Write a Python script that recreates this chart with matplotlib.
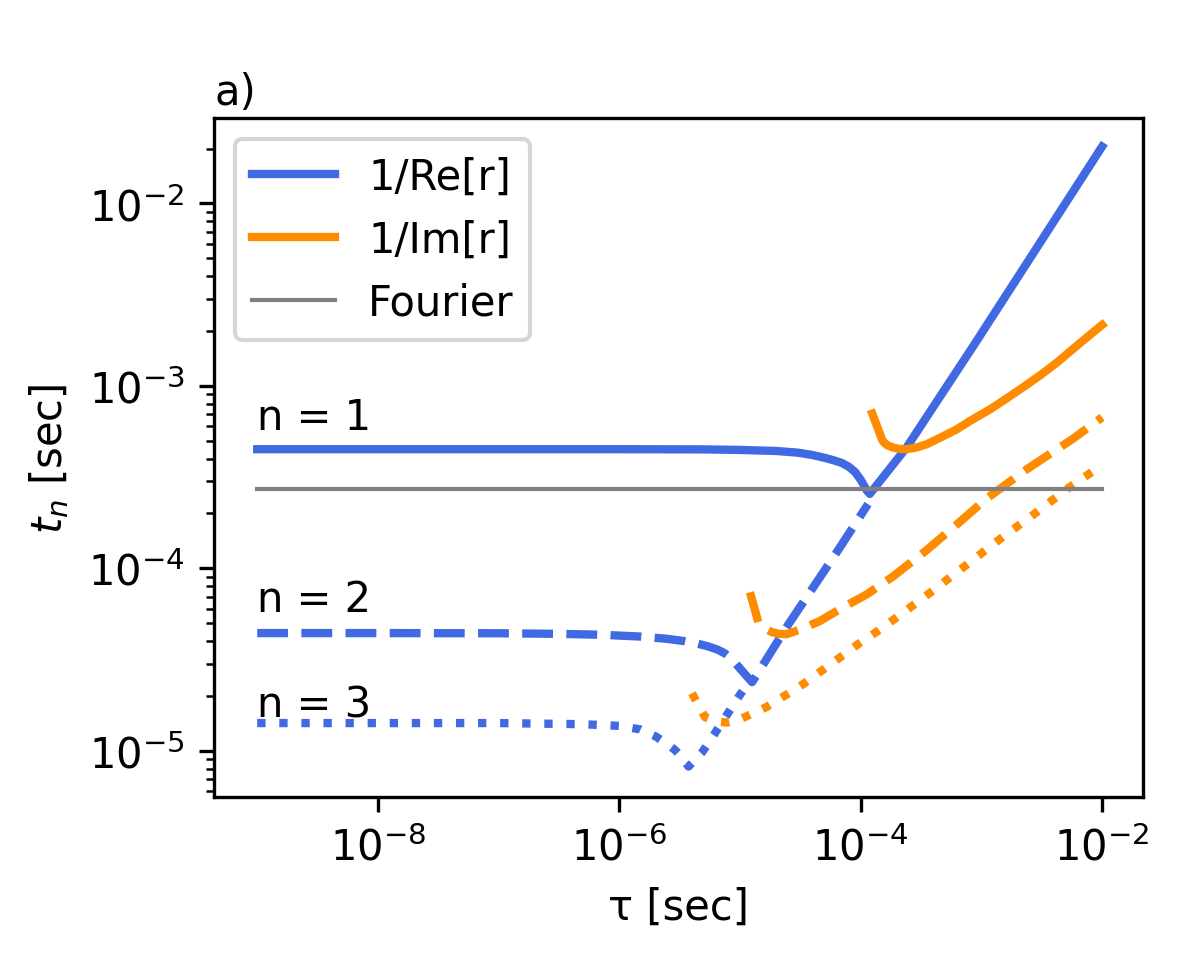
import matplotlib
matplotlib.use('Agg')
import matplotlib.pyplot as plt

BLUE = 'royalblue'
ORANGE = 'darkorange'

# 1/Re[r] for n = 1, 2, 3
tau_re1 = [1e-9, 1e-8, 1e-7, 1e-6, 5e-6, 1e-5, 2e-5, 3e-5, 4e-5, 5e-5, 6e-5, 7e-5, 8e-5,
           9e-5, 1.0e-4, 1.07e-4, 1.13e-4, 1.19e-4, 2.4e-4, 8.6e-4, 3.06e-3, 1e-2]
re1 = [4.5e-4, 4.5e-4, 4.5e-4, 4.5e-4, 4.49e-4, 4.46e-4, 4.4e-4, 4.31e-4, 4.18e-4, 4.04e-4,
       3.91e-4, 3.78e-4, 3.6e-4, 3.37e-4, 3.06e-4, 2.83e-4, 2.66e-4, 2.56e-4, 4.6e-4,
       1.66e-3, 6.09e-3, 2.05e-2]

tau_re2 = [1e-9, 1e-8, 1e-7, 3e-7, 7e-7, 1.5e-6, 2.5e-6, 3.5e-6, 4.5e-6, 5.5e-6, 6.5e-6,
           7.5e-6, 8.5e-6, 9.5e-6, 1.1e-5, 1.26e-5, 2.5e-5, 6.3e-5, 1.15e-4]
re2 = [4.42e-5, 4.42e-5, 4.41e-5, 4.38e-5, 4.33e-5, 4.23e-5, 4.11e-5, 3.99e-5, 3.86e-5,
       3.73e-5, 3.59e-5, 3.42e-5, 3.2e-5, 2.94e-5, 2.63e-5, 2.38e-5, 4.9e-5, 1.22e-4, 2.25e-4]

tau_re3 = [1e-9, 1e-8, 1e-7, 5e-7, 1.0e-6, 1.5e-6, 2.0e-6, 2.5e-6, 2.9e-6, 3.3e-6, 3.75e-6,
           4.9e-6, 6.2e-6, 9.8e-6, 1.1e-5]
re3 = [1.42e-5, 1.42e-5, 1.42e-5, 1.4e-5, 1.37e-5, 1.31e-5, 1.2e-5, 1.09e-5, 1.01e-5,
       9.2e-6, 8.2e-6, 9.9e-6, 1.25e-5, 1.99e-5, 2.22e-5]

# 1/Im[r] for n = 1, 2, 3
tau_im1 = [1.247e-4, 1.52e-4, 1.65e-4, 1.86e-4, 2.1e-4, 2.4e-4, 2.9e-4, 3.52e-4, 4.6e-4,
           6.24e-4, 8.6e-4, 1.18e-3, 1.6e-3, 2.21e-3, 3.1e-3, 4.21e-3, 6.3e-3, 1e-2]
im1 = [7.05e-4, 4.99e-4, 4.74e-4, 4.59e-4, 4.52e-4, 4.5e-4, 4.6e-4, 4.79e-4, 5.22e-4,
       5.78e-4, 6.6e-4, 7.44e-4, 8.5e-4, 9.82e-4, 1.15e-3, 1.34e-3, 1.68e-3, 2.16e-3]

tau_im2 = [1.21e-5, 1.42e-5, 1.6e-5, 1.83e-5, 2.1e-5, 2.44e-5, 3.14e-5, 4.6e-5, 6.74e-5,
           1.12e-4, 1.86e-4, 3.52e-4, 6.31e-4, 1.11e-3, 2.37e-3, 5.77e-3, 1e-2]
im2 = [7.4e-5, 5.06e-5, 4.7e-5, 4.48e-5, 4.38e-5, 4.36e-5, 4.62e-5, 5.15e-5, 5.98e-5,
       7.2e-5, 9.05e-5, 1.26e-4, 1.75e-4, 2.42e-4, 3.49e-4, 5.15e-4, 6.73e-4]

tau_im3 = [4.0e-6, 5.13e-6, 6.2e-6, 7.76e-6, 9.5e-6, 1.14e-5, 1.66e-5, 2.36e-5, 3.33e-5,
           4.75e-5, 6.74e-5, 9.55e-5, 1.36e-4, 1.92e-4, 2.65e-4, 3.75e-4, 7.3e-4, 1.43e-3,
           2.78e-3, 5.42e-3, 1e-2]
im3 = [2.07e-5, 1.53e-5, 1.45e-5, 1.43e-5, 1.47e-5, 1.55e-5, 1.74e-5, 2.01e-5, 2.32e-5,
       2.75e-5, 3.25e-5, 3.85e-5, 4.5e-5, 5.3e-5, 6.2e-5, 7.35e-5, 1.03e-4, 1.45e-4,
       2.0e-4, 2.8e-4, 3.68e-4]

# Fourier limit
tau_fourier = [1e-9, 1e-2]
fourier = [2.72e-4, 2.72e-4]

# n labels
n_labels = ['n = 1', 'n = 2', 'n = 3']
n_label_y = [5.8e-4, 5.8e-5, 1.55e-5]


fig = plt.figure(figsize=(3.93, 3.183), dpi=300)
ax = fig.add_axes([214 / 1179, 1 - 798 / 955, 929 / 1179, 679 / 955])

ax.plot(tau_re1, re1, color=BLUE, lw=2, ls='-', label='1/Re[r]')
ax.plot(tau_im1, im1, color=ORANGE, lw=2, ls='-', label='1/Im[r]')
ax.plot(tau_re2, re2, color=BLUE, lw=2, ls='--')
ax.plot(tau_im2, im2, color=ORANGE, lw=2, ls='--')
ax.plot(tau_re3, re3, color=BLUE, lw=2, ls=':')
ax.plot(tau_im3, im3, color=ORANGE, lw=2, ls=':')
ax.plot(tau_fourier, fourier, color='gray', lw=1, label='Fourier')

for label, y in zip(n_labels, n_label_y):
    ax.text(1e-9, y, label, fontsize=10)

ax.set_xscale('log')
ax.set_yscale('log')
ax.set_xlim(10 ** -9.358, 10 ** -1.661)
ax.set_ylim(10 ** -5.253, 10 ** -1.532)

ax.set_xlabel('τ [sec]')
ax.set_ylabel('$t_n$ [sec]')
ax.text(0, 1.02, 'a)', transform=ax.transAxes, fontsize=10)
ax.legend(loc='upper left')

fig.savefig('out.png', dpi=300)
